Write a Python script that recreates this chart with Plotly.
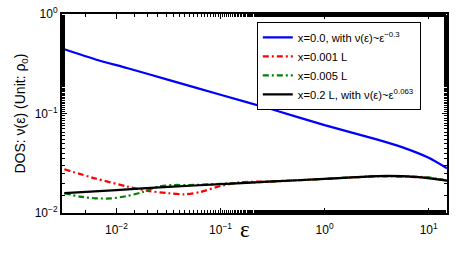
import plotly.graph_objects as go

# energies (x) and DOS values for each curve
eps_blue = [0.00316, 0.00631, 0.0126, 0.0316, 0.1, 0.316, 1.0, 3.16, 5.62, 10.0, 15.0]
dos_blue = [0.4416, 0.349, 0.2864, 0.2178, 0.1545, 0.1096, 0.0764, 0.0550, 0.0457, 0.0359, 0.0282]

eps_black = [0.00316, 0.01, 0.0316, 0.1, 0.316, 1.0, 2.0, 4.0, 8.0, 15.0]
dos_black = [0.01585, 0.0170, 0.0183, 0.0195, 0.02075, 0.0220, 0.0229, 0.0236, 0.0229, 0.0211]

eps_red = [0.00316, 0.00631, 0.0126, 0.02, 0.0316, 0.0447, 0.0631, 0.1, 0.158, 0.316, 1.0, 3.16, 10.0, 15.0]
dos_red = [0.0275, 0.0222, 0.0185, 0.0167, 0.0158, 0.0154, 0.0162, 0.0187, 0.0204, 0.0207, 0.0220, 0.0233, 0.0226, 0.0211]

eps_green = [0.00316, 0.00447, 0.00631, 0.0089, 0.0126, 0.0178, 0.0251, 0.0355, 0.05, 0.1, 0.316, 1.0, 3.16, 10.0, 15.0]
dos_green = [0.01578, 0.0146, 0.01406, 0.01403, 0.0148, 0.0162, 0.0184, 0.0191, 0.0191, 0.0196, 0.02075, 0.0220, 0.0234, 0.0228, 0.0211]

x_tickvals = [0.01, 0.1, 1, 10]
x_ticktext = ["10<sup>−2</sup>", "10<sup>−1</sup>", "10<sup>0</sup>", "10<sup>1</sup>"]
y_tickvals = [0.01, 0.1, 1]
y_ticktext = ["10<sup>−2</sup>", "10<sup>−1</sup>", "10<sup>0</sup>"]

labels = ["x=0.0, with ν(ε)~ε<sup>−0.3</sup>", "x=0.001 L", "x=0.005 L",
          "x=0.2 L, with ν(ε)~ε<sup>0.063</sup>"]

fig = go.Figure()
fig.add_trace(go.Scatter(x=eps_blue, y=dos_blue, mode="lines", name=labels[0],
                         line=dict(color="#0000ff", width=2.2, shape="spline", smoothing=0.6)))
fig.add_trace(go.Scatter(x=eps_red, y=dos_red, mode="lines", name=labels[1],
                         line=dict(color="#ff0000", width=2.2, dash="6px,3px,2px,3px", shape="spline", smoothing=0.8)))
fig.add_trace(go.Scatter(x=eps_green, y=dos_green, mode="lines", name=labels[2],
                         line=dict(color="#008000", width=2.2, dash="6px,3px,2px,3px", shape="spline", smoothing=0.8)))
fig.add_trace(go.Scatter(x=eps_black, y=dos_black, mode="lines", name=labels[3],
                         line=dict(color="#000000", width=2.2, shape="spline", smoothing=0.8)))

axis_common = dict(type="log", showgrid=False, zeroline=False, showline=True,
                   linecolor="black", linewidth=2, mirror="ticks", ticks="inside",
                   ticklen=5, tickwidth=1, tickcolor="black", automargin=False,
                   tickfont=dict(family="Liberation Sans, Arial", size=12, color="black"),
                   minor=dict(ticks="inside", ticklen=3, tickcolor="black", showgrid=False))

fig.update_xaxes(range=[-2.523, 1.176], tickvals=x_tickvals, ticktext=x_ticktext,
                 ticklabelstandoff=5, **axis_common)
fig.update_yaxes(range=[-2, 0], tickvals=y_tickvals, ticktext=y_ticktext,
                 title=dict(text="DOS: ν(ε) (Unit: ρ<sub>0</sub>)",
                 font=dict(family="Liberation Sans, Arial", size=14, color="black"), standoff=6),
                 **axis_common)

fig.add_annotation(text="ε", xref="paper", yref="paper", x=0.475, y=-0.085,
                   showarrow=False, font=dict(family="Liberation Serif, Times New Roman", size=23, color="black"),
                   xanchor="center", yanchor="middle")

fig.update_layout(
    width=457, height=257,
    margin=dict(l=62, r=10, t=14, b=44, autoexpand=False),
    plot_bgcolor="white", paper_bgcolor="white",
    font=dict(family="Liberation Sans, Arial", color="black"),
    legend=dict(x=0.506, y=0.96, xanchor="left", yanchor="top",
                bgcolor="white", bordercolor="black", borderwidth=1,
                font=dict(size=11.2, color="black"), tracegroupgap=0,
                itemwidth=30),
    showlegend=True,
)

# remove the browser's default 8px body margin so the figure fills the window
fig.write_html("out.html", config={"displayModeBar": False},
               post_script="document.body.style.margin='0';")
